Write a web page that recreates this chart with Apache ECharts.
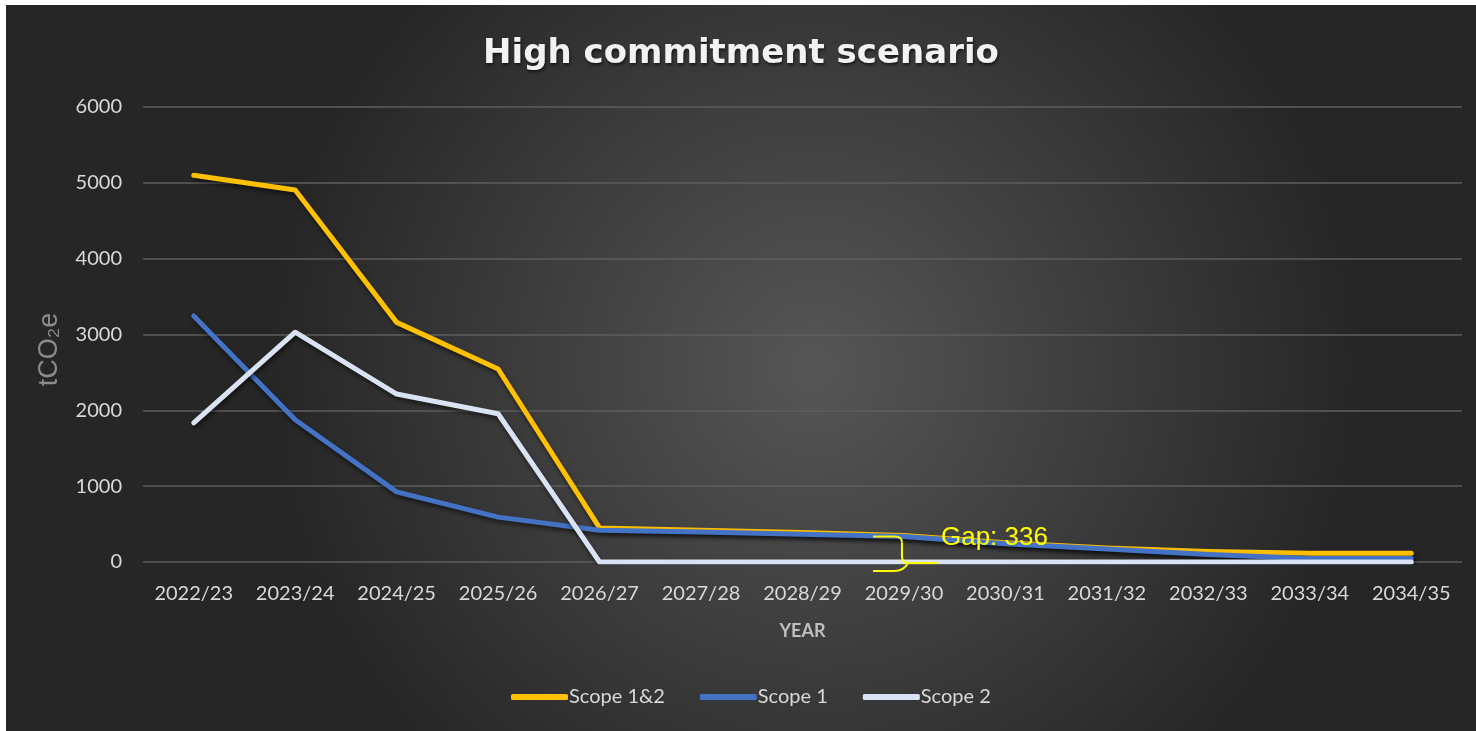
<!DOCTYPE html>
<html>
<head>
<meta charset="utf-8">
<script src="https://cdn.jsdelivr.net/npm/echarts@6/dist/echarts.min.js"></script>
<style>
  html, body { margin: 0; padding: 0; background: #262626; overflow: hidden; width: 100%; height: 100%; }
  #topstrip { position: fixed; left: 0; top: 0; right: 0; height: 5px; background: #ffffff; }
  #leftstrip { position: fixed; left: 0; top: 0; bottom: 0; width: 6px; background: #ffffff; }
  #chart { position: fixed; left: 6px; top: 5px; width: 1470px; height: 726px; background: #262626; }
</style>
</head>
<body>
<div id="topstrip"></div>
<div id="leftstrip"></div>
<div id="chart"></div>
<script>
const categories = ['2022/23','2023/24','2024/25','2025/26','2026/27','2027/28','2028/29','2029/30','2030/31','2031/32','2032/33','2033/34','2034/35'];
const scope12 = [5100, 4905, 3160, 2545, 450, 420, 390, 350, 255, 185, 140, 115, 115];
const scope1  = [3245, 1875, 925, 592, 420, 395, 365, 336, 240, 170, 100, 45, 45];
const scope2  = [1835, 3030, 2215, 1955, 0, 0, 0, 0, 0, 0, 0, 0, 0];
const yTicks = [0, 1000, 2000, 3000, 4000, 5000, 6000];
const gapCategory = '2029/30';
const gapValue = 336;
const gapLabel = 'Gap: 336';

const chart = echarts.init(document.getElementById('chart'));
const FONT = 'Lato, "Open Sans", sans-serif';
const lineShadow = { shadowColor: 'rgba(0,0,0,0.55)', shadowBlur: 4, shadowOffsetX: 1, shadowOffsetY: 3 };

function mkSeries(name, data, color) {
  return {
    name, type: 'line', data, symbol: 'none', smooth: false,
    lineStyle: Object.assign({ color, width: 5, cap: 'round', join: 'round' }, lineShadow),
    itemStyle: { color },
    emphasis: { disabled: true }
  };
}

chart.setOption({
  animation: false,
  backgroundColor: {
    type: 'radial', x: 0.55, y: 0.5, r: 0.75,
    colorStops: [ { offset: 0, color: '#565656' }, { offset: 1, color: '#262626' } ]
  },
  title: {
    text: 'High commitment scenario',
    left: 'center', top: 27,
    textStyle: {
      color: '#f2f2f2', fontFamily: '"DejaVu Sans", sans-serif', fontWeight: 'bold', fontSize: 34,
      textShadowColor: 'rgba(0,0,0,0.6)', textShadowBlur: 3, textShadowOffsetX: 1, textShadowOffsetY: 2
    }
  },
  grid: { left: 137, right: 14, top: 102, bottom: 169 },
  legend: {
    bottom: 19, left: 500,
    itemWidth: 57, itemHeight: 6, itemGap: 35,
    icon: 'roundRect',
    textStyle: { color: '#d9d9d9', fontFamily: FONT, fontSize: 20, padding: [0, 0, 0, -4] },
    data: ['Scope 1&2', 'Scope 1', 'Scope 2']
  },
  xAxis: {
    type: 'category', data: categories, boundaryGap: true,
    name: 'YEAR', nameLocation: 'middle', nameGap: 60,
    nameTextStyle: { color: '#bfbfbf', fontFamily: FONT, fontWeight: 'bold', fontSize: 18 },
    axisLine: { show: false }, axisTick: { show: false },
    axisLabel: { color: '#d9d9d9', fontFamily: FONT, fontSize: 20, margin: 22, interval: 0 }
  },
  yAxis: {
    type: 'value', min: 0, max: 6000, interval: 1000,
    name: 'tCO₂e', nameLocation: 'middle', nameGap: 80, nameRotate: 90,
    nameTextStyle: { color: '#8c8c8c', fontFamily: '"Liberation Sans", Arial, sans-serif', fontSize: 27, padding: [0, 30, 0, 0] },
    axisLine: { show: false }, axisTick: { show: false },
    axisLabel: { color: '#d9d9d9', fontFamily: FONT, fontSize: 20, margin: 21,
      formatter: v => yTicks.includes(v) ? String(v) : '' },
    splitLine: { lineStyle: { color: '#5e5e5e', width: 1.5 } }
  },
  series: [
    mkSeries('Scope 1&2', scope12, '#FFC000'),
    mkSeries('Scope 1', scope1, '#4472C4'),
    mkSeries('Scope 2', scope2, '#DAE3F3')
  ]
});

// Gap annotation anchored on data coordinates
const pTop = chart.convertToPixel({ xAxisIndex: 0, yAxisIndex: 0 }, [gapCategory, gapValue]);
const pZero = chart.convertToPixel({ xAxisIndex: 0, yAxisIndex: 0 }, [gapCategory, 0]);
const x = pTop[0], yt = pTop[1], y0 = pZero[1];
const bx = x - 2;
const braceStyle = { stroke: '#FFFF00', lineWidth: 2, fill: null };
function seg(x1, y1, x2, y2) { return { type: 'line', shape: { x1, y1, x2, y2 }, style: braceStyle, z: 100, silent: true }; }
function curve(x1, y1, cx, cy, x2, y2) { return { type: 'bezierCurve', shape: { x1, y1, cpx1: cx, cpy1: cy, x2, y2 }, style: braceStyle, z: 100, silent: true }; }
chart.setOption({
  graphic: [
    seg(x - 31, yt, bx - 7, yt),
    curve(bx - 7, yt, bx, yt, bx, yt + 6),
    seg(bx, yt + 6, bx, y0 - 6),
    curve(bx, y0 - 6, bx, y0 + 1, bx + 6, y0 + 1),
    seg(bx + 6, y0 + 1, x + 33, y0 + 1),
    curve(bx + 6, y0 + 1, bx + 2, y0 + 9, bx - 8, y0 + 9),
    seg(bx - 8, y0 + 9, x - 31, y0 + 9),
    { type: 'text', x: x + 37, y: yt + 1, style: { text: gapLabel, fill: '#FFFF00', font: '26px "Liberation Sans", Arial, sans-serif', textVerticalAlign: 'middle' }, z: 100, silent: true }
  ]
});
</script>
</body>
</html>
